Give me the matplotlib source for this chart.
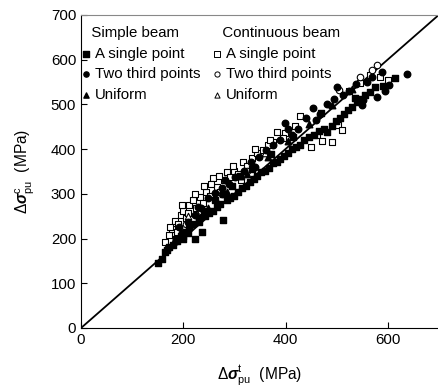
import matplotlib.pyplot as plt

plt.rcParams["font.family"] = ["Liberation Sans", "DejaVu Sans"]
plt.rcParams["mathtext.fontset"] = "custom"
plt.rcParams["mathtext.rm"] = "Liberation Sans"
plt.rcParams["mathtext.it"] = "Liberation Sans:italic"
plt.rcParams["mathtext.bf"] = "Liberation Sans:italic:bold"

# simple beam, a single point (filled squares)
sq_x = [150, 158, 165, 172, 180, 188, 195, 200, 205, 212, 218, 223, 230, 236, 243, 250,
        258, 265, 272, 278, 285, 292, 300, 308, 315, 322, 330, 338, 345, 352, 360, 368,
        375, 383, 390, 398, 405, 412, 420, 428, 436, 445, 455, 465, 475, 481, 490, 498,
        506, 515, 522, 530, 540, 548, 556, 565, 575, 590, 614, 200, 210, 230, 278, 310,
        168, 185, 240, 262, 295, 335, 372, 415, 470, 535]
sq_y = [145, 155, 170, 180, 185, 195, 205, 200, 215, 225, 232, 200, 238, 215, 250, 258,
        262, 270, 278, 242, 285, 290, 296, 305, 312, 318, 326, 333, 340, 348, 352, 358,
        368, 372, 378, 385, 392, 400, 405, 410, 420, 428, 432, 440, 445, 438, 452, 462,
        470, 478, 488, 495, 505, 512, 520, 528, 538, 540, 559, 205, 212, 245, 300, 340,
        175, 200, 262, 285, 318, 355, 390, 428, 480, 515]

# simple beam, two third points (filled circles)
ci_x = [170, 185, 198, 210, 222, 235, 248, 262, 275, 290, 302, 318, 332, 348, 362, 375,
        390, 399, 412, 425, 440, 454, 468, 482, 495, 500, 512, 525, 538, 549, 551, 560,
        570, 579, 588, 594, 602, 637, 192, 228, 282, 340, 405, 460]
ci_y = [178, 198, 212, 238, 252, 268, 290, 302, 312, 322, 338, 352, 372, 382, 398, 408,
        420, 459, 432, 445, 470, 492, 478, 500, 512, 539, 520, 530, 545, 499, 510, 550,
        560, 517, 572, 530, 544, 568, 225, 270, 330, 360, 445, 465]

# simple beam, uniform (filled triangles)
tr_x = [182, 215, 248, 285, 325, 365, 405, 445, 490, 530]
tr_y = [195, 232, 268, 305, 345, 382, 418, 455, 498, 535]

# continuous beam, a single point (open squares)
osq_x = [165, 172, 178, 184, 190, 195, 200, 206, 212, 219, 225, 232, 238, 245, 252, 258,
         265, 272, 280, 285, 292, 300, 308, 317, 325, 335, 345, 355, 365, 375, 383, 399,
         418, 428, 450, 461, 472, 490, 503, 510, 525, 545, 565, 585, 600,
         175, 188, 198, 210, 222, 240, 255, 270, 298, 312, 340, 370, 395]
osq_y = [192, 208, 222, 240, 232, 252, 262, 245, 275, 286, 268, 292, 280, 305, 295, 335,
         315, 305, 330, 349, 338, 352, 345, 371, 362, 380, 392, 398, 408, 415, 438, 436,
         452, 474, 405, 432, 418, 415, 454, 443, 530, 548, 565, 560, 555,
         225, 215, 275, 258, 300, 318, 322, 340, 362, 330, 400, 420, 425]

# continuous beam, two third points (open circles)
oci_x = [205, 235, 275, 325, 505, 545, 570, 579]
oci_y = [232, 262, 300, 352, 532, 560, 576, 588]

# continuous beam, uniform (open triangles)
otr_x = [210, 262, 312, 360]
otr_y = [250, 292, 340, 392]

fig = plt.figure(figsize=(4.38, 3.9), dpi=100)
ax = fig.add_axes([0.185, 0.159, 0.817, 0.803])

ax.plot([0, 700], [0, 700], color="black", lw=1.3, zorder=1)

ms = 22
ax.scatter(osq_x, osq_y, s=ms, marker="s", facecolor="white", edgecolor="black", lw=0.8, zorder=2)
ax.scatter(oci_x, oci_y, s=ms, marker="o", facecolor="white", edgecolor="black", lw=0.8, zorder=2)
ax.scatter(otr_x, otr_y, s=ms, marker="^", facecolor="white", edgecolor="black", lw=0.8, zorder=2)
h1 = ax.scatter(sq_x, sq_y, s=ms, marker="s", color="black", zorder=3)
h2 = ax.scatter(ci_x, ci_y, s=ms, marker="o", color="black", zorder=3)
h3 = ax.scatter(tr_x, tr_y, s=ms, marker="^", color="black", zorder=3)

handles_open = [
    ax.scatter([], [], s=14, marker="s", facecolor="white", edgecolor="black", lw=0.7),
    ax.scatter([], [], s=14, marker="o", facecolor="white", edgecolor="black", lw=0.7),
    ax.scatter([], [], s=14, marker="^", facecolor="white", edgecolor="black", lw=0.7),
]
labels = ["A single point", "Two third points", "Uniform"]

leg_kw = dict(loc="upper left", frameon=False, fontsize=10.8, title_fontsize=10.8,
              handletextpad=0.15, handlelength=0.9, labelspacing=0.45,
              borderaxespad=0, borderpad=0)
leg1 = ax.legend([h1, h2, h3], labels, title="   Simple beam",
                 bbox_to_anchor=(-0.005, 0.965), markerscale=0.8, **leg_kw)
leg1._legend_box.align = "left"
ax.add_artist(leg1)
leg2 = ax.legend(handles_open, labels, title="   Continuous beam",
                 bbox_to_anchor=(0.36, 0.965), **leg_kw)
leg2._legend_box.align = "left"

ax.set_xlim(0, 700)
ax.set_ylim(0, 700)
ax.set_xticks([0, 200, 400, 600])
ax.set_yticks(range(0, 701, 100))
ax.tick_params(direction="in", length=4, labelsize=10.8, width=0.8)
ax.spines["right"].set_visible(False)
ax.spines["top"].set_color("#888888")
ax.spines["top"].set_linewidth(0.8)

ax.set_xlabel(r"$\Delta\mathbf{\sigma}^{\rm t}_{\rm pu}$  (MPa)", fontsize=11.2, labelpad=12)
ax.set_ylabel(r"$\Delta\mathbf{\sigma}^{\rm c}_{\rm pu}$  (MPa)", fontsize=11.2, labelpad=11)

fig.savefig("out.png", dpi=100)
